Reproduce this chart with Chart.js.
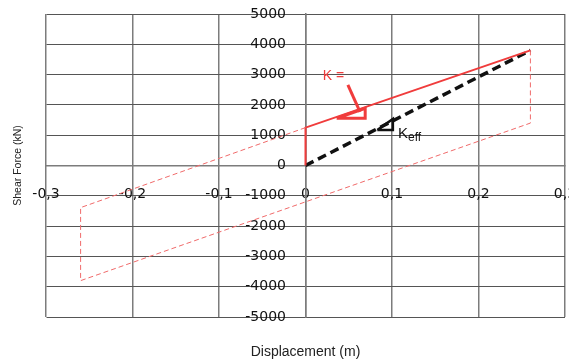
<!DOCTYPE html>
<html lang="en">
<head>
<meta charset="UTF-8">
<title>Shear Force vs Displacement</title>
<script src="https://cdn.jsdelivr.net/npm/chart.js"></script>
<style>
  html, body { margin: 0; padding: 0; background: #fff; }
  #wrap { width: 569px; height: 362px; }
</style>
</head>
<body>
<div id="wrap"><canvas id="hystChart"></canvas></div>
<script>
// hysteresis loop (thin dashed red)
const loopX = [0, -0.26, -0.26, 0.26, 0.26];
const loopY = [1250, -1390, -3800, 1400, 3800];
// backbone curve (solid red)
const backboneX = [0, 0, 0.26];
const backboneY = [0, 1250, 3800];
// effective stiffness (black dashed)
const keffX = [0, 0.26];
const keffY = [0, 3800];
// slope markers
const kTriX = [0.036, 0.069, 0.069, 0.036];
const kTriY = [1560, 1560, 1890, 1560];
const kArrowX = [0.049, 0.063];
const kArrowY = [2660, 1770];
const keffTriX = [0.083, 0.101, 0.101, 0.083];
const keffTriY = [1170, 1170, 1535, 1170];

const xTicks = [-0.3, -0.2, -0.1, 0, 0.1, 0.2, 0.3];
const yTicks = [-5000, -4000, -3000, -2000, -1000, 0, 1000, 2000, 3000, 4000, 5000];

function pts(xs, ys) {
    return xs.map((x, i) => ({ x: x, y: ys[i] }));
}

function line(xs, ys, color, width, dash) {
    return {
        data: pts(xs, ys),
        showLine: true,
        borderColor: color,
        borderWidth: width,
        borderDash: dash || [],
        pointRadius: 0,
        fill: false,
        tension: 0
    };
}

// text labels next to the slope markers
const labelPlugin = {
    id: 'slopeLabels',
    afterDatasetsDraw(chart) {
        const ctx = chart.ctx;
        const xs = chart.scales.x, ys = chart.scales.y;
        ctx.save();
        ctx.textBaseline = 'middle';
        ctx.textAlign = 'left';
        ctx.fillStyle = '#f03c3c';
        ctx.font = '14px "Liberation Sans"';
        ctx.fillText('K =', xs.getPixelForValue(0.02), ys.getPixelForValue(2937));
        ctx.fillStyle = '#111';
        ctx.textBaseline = 'alphabetic';
        ctx.font = '15px "Liberation Sans"';
        const kx = xs.getPixelForValue(0.107);
        ctx.fillText('K', kx, ys.getPixelForValue(900));
        const kw = ctx.measureText('K').width;
        ctx.font = '12px "Liberation Sans"';
        ctx.fillText('eff', kx + kw, ys.getPixelForValue(800));
        ctx.restore();
    }
};

// put the y axis (labels + axis line) on x = 0 instead of the left edge
const centerYAxis = {
    id: 'centerYAxis',
    afterLayout(chart) {
        const y = chart.scales.y;
        const x0 = chart.scales.x.getPixelForValue(0);
        y.left = 0;
        y.right = x0;
    }
};

const gridColor = '#7c7c7c';

new Chart(document.getElementById('hystChart'), {
    type: 'scatter',
    data: {
        datasets: [
            line(loopX, loopY, '#f06a6a', 1, [5, 3]),
            line(backboneX, backboneY, '#f03c3c', 2),
            line(keffX, keffY, '#111111', 3.5, [9, 5]),
            line(kTriX, kTriY, '#f03c3c', 3),
            line(kArrowX, kArrowY, '#f03c3c', 3),
            line(keffTriX, keffTriY, '#111111', 2.5)
        ]
    },
    options: {
        responsive: true,
        maintainAspectRatio: false,
        animation: false,
        layout: { padding: { top: 14, right: 4, left: 0, bottom: 0 } },
        plugins: {
            legend: { display: false },
            tooltip: { enabled: false },
            title: {
                display: true,
                text: 'Displacement (m)',
                position: 'bottom',
                fullSize: false,
                color: '#222',
                font: { family: 'Liberation Sans', size: 14, weight: 'normal' },
                padding: { top: 26.6, bottom: 1.6 }
            },
            subtitle: {
                display: true,
                text: 'Shear Force (kN)',
                position: 'left',
                fullSize: false,
                color: '#222',
                font: { family: 'Liberation Sans', size: 10.5, weight: 'normal' },
                padding: { top: 11.7, bottom: 21.7 }
            }
        },
        scales: {
            x: {
                type: 'linear',
                position: { y: 0 },
                min: -0.3,
                max: 0.3,
                afterBuildTicks: s => { s.ticks = xTicks.map(v => ({ value: v })); },
                afterFit: s => { s.paddingRight = 0; s.paddingLeft = 0; },
                grid: { color: gridColor, lineWidth: 1.5, drawTicks: false },
                border: { color: gridColor, width: 1.5 },
                ticks: {
                    color: '#111',
                    font: { family: 'DejaVu Sans', size: 14 },
                    padding: 20.5,
                    maxRotation: 0,
                    callback: v => String(Math.round(v * 10) / 10).replace('.', ',')
                }
            },
            y: {
                type: 'linear',
                position: 'left',
                min: -5000,
                max: 5000,
                afterBuildTicks: s => { s.ticks = yTicks.map(v => ({ value: v })); },
                afterFit: s => { s.width = 0; s.paddingTop = 0; s.paddingBottom = 0; },
                grid: { color: '#555', lineWidth: 1, drawTicks: false },
                border: { color: gridColor, width: 1.5 },
                ticks: {
                    color: '#111',
                    font: { family: 'DejaVu Sans', size: 14 },
                    padding: 19.5,
                    autoSkip: false,
                    callback: v => String(v)
                }
            }
        }
    },
    plugins: [labelPlugin, centerYAxis]
});
</script>
</body>
</html>
